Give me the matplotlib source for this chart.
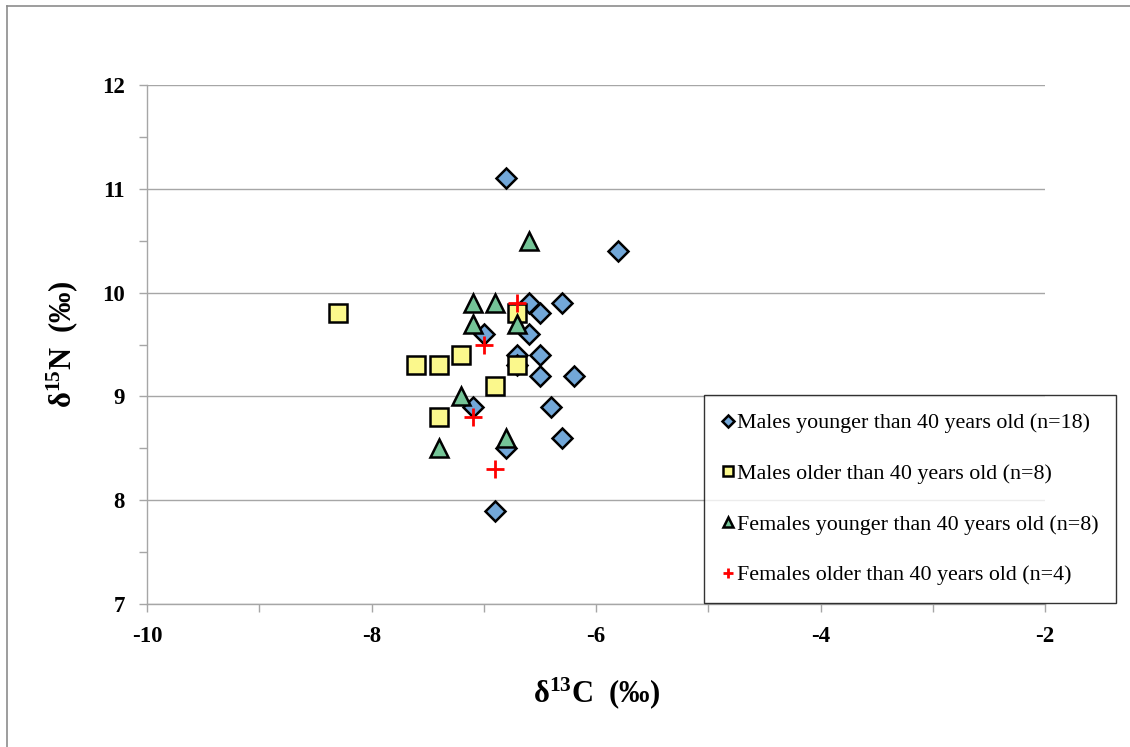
import matplotlib
matplotlib.use('agg')
import matplotlib.pyplot as plt
from matplotlib.lines import Line2D
from matplotlib.ticker import MultipleLocator, FormatStrFormatter

# Fonts: Times-like serif (Liberation Serif) for everything, incl. mathtext superscripts
plt.rcParams['font.family'] = ['Liberation Serif', 'DejaVu Serif']
plt.rcParams['mathtext.fontset'] = 'custom'
plt.rcParams['mathtext.rm'] = 'Liberation Serif:bold'
plt.rcParams['mathtext.it'] = 'Liberation Serif:bold'
plt.rcParams['mathtext.bf'] = 'Liberation Serif:bold'
plt.rcParams['axes.unicode_minus'] = False

# Data (d13C, d15N)
males_young_c = [-6.8, -5.8, -6.6, -6.3, -6.5, -7.0, -6.6, -6.7, -6.5, -6.7,
                 -6.5, -6.2, -7.1, -6.4, -6.3, -6.8, -6.9]
males_young_n = [11.1, 10.4, 9.9, 9.9, 9.8, 9.6, 9.6, 9.4, 9.4, 9.3,
                 9.2, 9.2, 8.9, 8.9, 8.6, 8.5, 7.9]

males_old_c = [-8.3, -6.7, -7.6, -7.4, -7.2, -6.7, -6.9, -7.4]
males_old_n = [9.8, 9.8, 9.3, 9.3, 9.4, 9.3, 9.1, 8.8]

females_young_c = [-6.6, -7.1, -6.9, -7.1, -6.7, -7.2, -6.8, -7.4]
females_young_n = [10.5, 9.9, 9.9, 9.7, 9.7, 9.0, 8.6, 8.5]

females_old_c = [-6.7, -7.0, -7.1, -6.9]
females_old_n = [9.9, 9.5, 8.8, 8.3]

labels = ['Males younger than 40 years old (n=18)',
          'Males older than 40 years old (n=8)',
          'Females younger than 40 years old (n=8)',
          'Females older than 40 years old (n=4)']

blue = '#72a7d8'
yellow = '#fbf88c'
green = '#74c497'
red = '#ff0000'
gray = '#a6a6a6'

fig = plt.figure(figsize=(11.3, 7.47), dpi=100)
ax = fig.add_axes([0.1301, 0.1914, 0.7947, 0.6948])

ax.plot(males_young_c, males_young_n, linestyle='none', marker='D', ms=10,
        mfc=blue, mec='black', mew=1.8, label=labels[0], zorder=3)
ax.plot(males_old_c, males_old_n, linestyle='none', marker='s', ms=13,
        mfc=yellow, mec='black', mew=1.8, label=labels[1], zorder=4)
ax.plot(females_young_c, females_young_n, linestyle='none', marker='^', ms=13,
        mfc=green, mec='black', mew=1.8, label=labels[2], zorder=5)
ax.plot(females_old_c, females_old_n, linestyle='none', marker='+', ms=13,
        mec=red, mew=2, label=labels[3], zorder=6)

ax.set_xlim(-10, -2)
ax.set_ylim(7, 12)
ax.xaxis.set_major_locator(MultipleLocator(2))
ax.xaxis.set_minor_locator(MultipleLocator(1))
ax.yaxis.set_major_locator(MultipleLocator(1))
ax.yaxis.set_minor_locator(MultipleLocator(0.5))
ax.xaxis.set_major_formatter(FormatStrFormatter('%d'))
ax.yaxis.set_major_formatter(FormatStrFormatter('%d'))

ax.grid(axis='y', which='major', color=gray, linewidth=1)
ax.set_axisbelow(True)
for s in ['top', 'right']:
    ax.spines[s].set_visible(False)
for s in ['left', 'bottom']:
    ax.spines[s].set_color(gray)
    ax.spines[s].set_linewidth(1)

ax.tick_params(which='both', direction='out', color=gray, width=1, length=6)
ax.tick_params(axis='both', labelsize=16.5, pad=10)
for t in ax.get_xticklabels() + ax.get_yticklabels():
    t.set_fontweight('bold')

ax.set_xlabel(r'δ$^{13}$C  (‰)', fontsize=22, fontweight='bold', labelpad=20)
ax.set_ylabel(r'δ$^{15}$N  (‰)', fontsize=22, fontweight='bold', labelpad=16)

leg = ax.legend(loc='lower left', bbox_to_anchor=(0.623, 0.193), bbox_transform=fig.transFigure,
                fontsize=15.8, frameon=True, fancybox=False, edgecolor='black',
                markerscale=0.6, handlelength=0.6, handletextpad=0.1,
                labelspacing=1.38, borderpad=0.8, borderaxespad=0)
leg.get_frame().set_linewidth(1)

# outer chart border (left and top edges visible)
fig.add_artist(Line2D([0.0062, 0.0062], [0, 0.992], color='#8c8c8c', linewidth=1.2))
fig.add_artist(Line2D([0.0062, 1.0], [0.992, 0.992], color='#8c8c8c', linewidth=1.2))

plt.savefig('out.png', dpi=100)
plt.close()
